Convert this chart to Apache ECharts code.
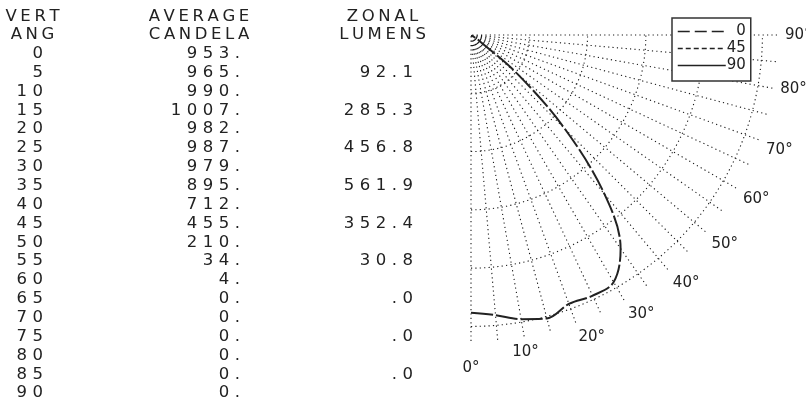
<!DOCTYPE html>
<html>
<head>
<meta charset="utf-8">
<script src="https://cdn.jsdelivr.net/npm/echarts@6/dist/echarts.min.js"></script>
<style>
html,body{margin:0;padding:0;background:#fff;}
#chart{width:806px;height:404px;}
</style>
</head>
<body>
<div id="chart"></div>
<script>
// ---- data ----
const vertAngles = [0, 5, 10, 15, 20, 25, 30, 35, 40, 45, 50, 55, 60, 65, 70, 75, 80, 85, 90];
const avgCandela = [953, 965, 990, 1007, 982, 987, 979, 895, 712, 455, 210, 34, 4, 0, 0, 0, 0, 0, 0];
const zonalLumens = [null, 92.1, null, 285.3, null, 456.8, null, 561.9, null, 352.4, null, 30.8, null, 0.0, null, 0.0, null, 0.0, null];
const planeNames = ['0', '45', '90'];
const angleTickLabels = [0, 10, 20, 30, 40, 50, 60, 70, 80, 90];
const headerLines = [['VERT', 'ANG'], ['AVERAGE', 'CANDELA'], ['ZONAL', 'LUMENS']];

// ---- table text layout (letter-spaced characters) ----
const TFONT = 'DejaVu Sans';
const TSIZE = 16.5;
const TCOLOR = '#222';
const mctx = document.createElement('canvas').getContext('2d');
mctx.font = TSIZE + 'px "' + TFONT + '"';

function spacedRun(str, x, y, align, spacing) {
  const chars = Array.from(str);
  const ws = chars.map(c => mctx.measureText(c).width);
  const total = ws.reduce((a, b) => a + b, 0) + spacing * (chars.length - 1);
  let cx = align === 'right' ? x - total : (align === 'center' ? x - total / 2 : x);
  return chars.map((c, i) => {
    const el = {
      type: 'text', x: cx, y: y, silent: true,
      style: {
        text: c, fontSize: TSIZE, fontFamily: TFONT, fill: TCOLOR,
        align: 'left', verticalAlign: 'middle',
        textAlign: 'left', textVerticalAlign: 'middle'
      }
    };
    cx += ws[i] + spacing;
    return el;
  });
}

const headerCenters = [32.5, 199, 382.5];
const headerY = [16.5, 35.2];
const rowY0 = 53.8, rowPitch = 18.85;
const colRight = [43, 240, 413];

let tableEls = [];
headerLines.forEach((lines, c) => {
  lines.forEach((t, k) => {
    tableEls = tableEls.concat(spacedRun(t, headerCenters[c], headerY[k], 'center', 3.6));
  });
});
vertAngles.forEach((a, i) => {
  const y = rowY0 + i * rowPitch;
  tableEls = tableEls.concat(spacedRun(String(a), colRight[0], y, 'right', 5.5));
  tableEls = tableEls.concat(spacedRun(avgCandela[i] + '.', colRight[1], y, 'right', 5.5));
  const lm = zonalLumens[i];
  if (lm !== null) {
    const s = lm === 0 ? '.0' : lm.toFixed(1);
    tableEls = tableEls.concat(spacedRun(s, colRight[2], y, 'right', 5.5));
  }
});

// ---- chart ----
const curve0 = vertAngles.map((a, i) => [avgCandela[i], a]);
const gridDots = [1.2, 3.2];
const gridColor = '#1a1a1a';
const noSymbol = { color: 'rgba(0,0,0,0)', borderColor: 'rgba(0,0,0,0)', borderWidth: 0, opacity: 0 };

const chart = echarts.init(document.getElementById('chart'), null, {renderer: 'canvas'});
chart.setOption({
  backgroundColor: '#fff',
  animation: false,
  polar: { center: [471, 35], radius: 306 },
  angleAxis: {
    type: 'value', min: 0, max: 90, interval: 5,
    startAngle: -90, endAngle: 0, clockwise: false,
    axisLine: { show: false },
    axisTick: { show: false },
    axisLabel: {
      margin: 8, fontSize: 15, fontFamily: 'DejaVu Sans', color: '#222',
      formatter: function (v) {
        if (angleTickLabels.indexOf(v) < 0) return '';
        return v === 0 ? '{z|0°}' : v + '°';
      },
      rich: { z: { fontSize: 15, fontFamily: 'DejaVu Sans', color: '#222', padding: [12, 0, 0, 0] } }
    },
    splitLine: { show: true, lineStyle: { color: gridColor, width: 1.1, type: gridDots } }
  },
  radiusAxis: {
    type: 'value', min: 0, max: 1050, interval: 200,
    axisLine: { show: false }, axisTick: { show: false }, axisLabel: { show: false },
    splitLine: { show: true, lineStyle: { color: [gridColor, gridColor, gridColor, gridColor, gridColor, gridColor, 'rgba(0,0,0,0)'], width: 1.1, type: gridDots } }
  },
  legend: {
    orient: 'vertical', left: 672, top: 18,
    padding: [6, 5, 8, 5], itemGap: 2, itemWidth: 48, itemHeight: 14,
    borderColor: '#333', borderWidth: 1.5, backgroundColor: '#fff',
    selectedMode: false,
    itemStyle: noSymbol,
    formatter: function (name) { return '{r|' + name + '}'; },
    textStyle: {
      fontSize: 15, fontFamily: 'DejaVu Sans', color: '#222',
      rich: { r: { width: 15, align: 'right', fontSize: 15, fontFamily: 'DejaVu Sans', color: '#222' } }
    },
    data: [
      { name: planeNames[0], itemStyle: noSymbol, lineStyle: { type: [12, 5], width: 1.5, color: '#222' } },
      { name: planeNames[1], itemStyle: noSymbol, lineStyle: { type: [5, 3], width: 1.5, color: '#222' } },
      { name: planeNames[2], itemStyle: noSymbol, lineStyle: { type: 'solid', width: 1.5, color: '#222' } }
    ]
  },
  series: [
    { name: planeNames[0], type: 'line', coordinateSystem: 'polar', data: curve0, smooth: 0.35, symbol: 'none',
      lineStyle: { color: '#222', width: 2, type: [22, 3] }, itemStyle: { color: '#222' }, z: 3 },
    { name: planeNames[1], type: 'line', coordinateSystem: 'polar', data: [], symbol: 'none',
      lineStyle: { color: '#222', width: 1.5, type: [5, 3] }, itemStyle: { color: '#222' } },
    { name: planeNames[2], type: 'line', coordinateSystem: 'polar', data: [], symbol: 'none',
      lineStyle: { color: '#222', width: 1.5, type: 'solid' }, itemStyle: { color: '#222' } }
  ],
  graphic: { elements: tableEls }
});
</script>
</body>
</html>
